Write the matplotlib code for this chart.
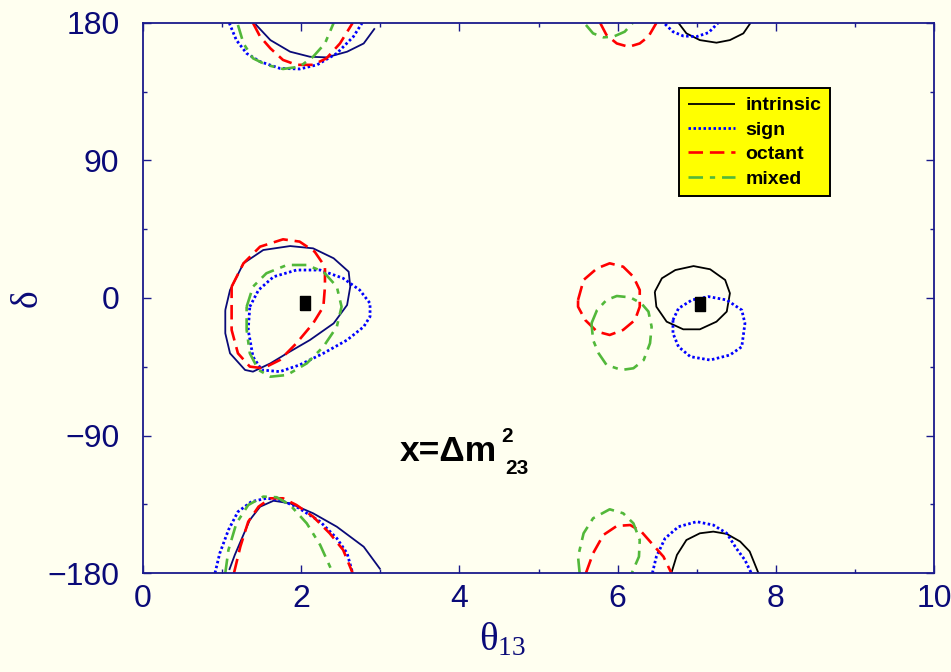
#!/usr/bin/env python3
import numpy as np
import matplotlib
matplotlib.use("Agg")
import matplotlib.pyplot as plt

plt.rcParams.update({
    'font.family': 'Liberation Sans',
    'font.size': 23,
    'axes.edgecolor': '#1a1a8c',
    'axes.linewidth': 1.3,
    'xtick.color': '#1a1a8c',
    'ytick.color': '#1a1a8c',
    'xtick.labelcolor': '#0a0a78',
    'ytick.labelcolor': '#0a0a78',
})

BG = '#fffff0'
NAVY = '#0a0a78'

# ---- allowed regions in the (theta13 [deg], delta [deg]) plane ----
# intrinsic degeneracy
intrinsic_mid_left = [(1.04, -7.9), (1.10, 5.2), (1.27, 22.7), (1.52, 31.4), (1.86, 34.0), (2.15, 32.5),
                      (2.41, 26.0), (2.60, 17.2), (2.62, 7.4), (2.58, -4.6), (2.41, -16.6), (2.11, -27.5),
                      (1.82, -36.2), (1.61, -42.8), (1.39, -48.2), (1.29, -47.1), (1.10, -36.2), (1.04, -23.1)]
intrinsic_mid_right = [(6.47, 4.1), (6.56, 12.9), (6.73, 18.3), (6.96, 20.9), (7.17, 18.8), (7.36, 11.8),
                       (7.42, 3.1), (7.38, -8.9), (7.25, -15.5), (7.04, -20.5), (6.83, -20.5), (6.62, -15.5),
                       (6.49, -5.7)]
intrinsic_top_left = [(1.42, 179.3), (1.61, 168.8), (1.86, 161.2), (2.11, 157.9), (2.32, 157.5),
                      (2.58, 161.2), (2.79, 166.6), (2.93, 176.5)]
intrinsic_top_right = [(6.77, 180), (6.87, 173.2), (7.04, 168.8), (7.25, 167.1), (7.42, 168.8),
                       (7.59, 173.2), (7.68, 180)]
intrinsic_bot_left = [(1.09, -178.0), (1.16, -168.2), (1.25, -157.3), (1.35, -145.3), (1.48, -136.6),
                      (1.65, -132.7), (1.86, -134.4), (2.15, -140.9), (2.45, -149.7), (2.79, -162.8),
                      (3.00, -177.6)]
intrinsic_bot_right = [(6.68, -180), (6.75, -168.2), (6.87, -158.4), (7.04, -154.0), (7.21, -152.9),
                       (7.38, -154.4), (7.55, -159.4), (7.67, -165.9), (7.78, -180)]

# sign degeneracy
sign_mid_left = [(1.35, -5.7), (1.46, 5.2), (1.65, 13.9), (1.94, 18.3), (2.24, 18.3), (2.53, 12.9),
                 (2.74, 5.2), (2.87, -3.5), (2.87, -12.2), (2.79, -18.8), (2.58, -27.5), (2.28, -36.2),
                 (1.98, -43.8), (1.73, -48.2), (1.50, -47.1), (1.39, -38.4), (1.33, -20.9)]
sign_mid_right = [(6.70, -14.4), (6.77, -6.8), (6.94, -1.3), (7.15, 0.9), (7.38, -1.3), (7.57, -7.9),
                  (7.61, -16.6), (7.57, -31.9), (7.42, -37.3), (7.17, -40.6), (6.92, -38.4),
                  (6.77, -31.9), (6.70, -23.1)]
sign_top_left = [(1.09, 180), (1.18, 168.8), (1.31, 160.1), (1.48, 154.7), (1.73, 150.3), (1.98, 149.9),
                 (2.20, 152.6), (2.45, 160.1), (2.66, 171.1), (2.77, 180)]
sign_top_right = [(6.60, 179.3), (6.70, 174.3), (6.83, 171.5), (7.00, 171.1), (7.15, 173.7), (7.27, 180)]
sign_bot_left = [(0.91, -180), (0.97, -167.1), (1.08, -151.8), (1.20, -139.9), (1.37, -133.3),
                 (1.56, -131.1), (1.73, -132.2), (1.94, -136.6), (2.24, -146.4), (2.45, -157.3),
                 (2.58, -167.1), (2.65, -180)]
sign_bot_right = [(6.44, -180), (6.49, -169.3), (6.60, -157.3), (6.77, -149.7), (7.00, -146.4),
                  (7.21, -148.6), (7.38, -154.0), (7.50, -163.8), (7.61, -171.5), (7.69, -180)]

# octant degeneracy
octant_mid_left = [(1.12, 7.4), (1.27, 22.7), (1.48, 33.6), (1.77, 38.4), (1.98, 36.9), (2.17, 30.3),
                   (2.30, 20.5), (2.30, 7.4), (2.28, -5.7), (2.15, -16.6), (1.94, -29.6), (1.73, -40.6),
                   (1.52, -46.0), (1.35, -44.9), (1.20, -36.2), (1.12, -20.9), (1.12, -5.7)]
octant_mid_right = [(5.50, -1.3), (5.57, 11.8), (5.74, 19.4), (5.90, 22.7), (6.07, 20.5), (6.20, 13.9),
                    (6.28, 5.2), (6.28, -5.7), (6.22, -14.4), (6.07, -20.9), (5.90, -24.2),
                    (5.74, -22.0), (5.59, -14.4), (5.50, -5.7)]
octant_top_left = [(1.39, 180), (1.48, 171.1), (1.61, 163.4), (1.77, 155.8), (1.94, 152.6),
                   (2.15, 152.6), (2.32, 156.9), (2.49, 166.6), (2.65, 180)]
octant_top_right = [(5.78, 180), (5.86, 172.1), (5.99, 166.6), (6.14, 164.4), (6.28, 166.6),
                    (6.39, 171.1), (6.49, 180)]
octant_bot_left = [(1.15, -180), (1.23, -162.8), (1.33, -146.4), (1.46, -136.6), (1.61, -131.1),
                   (1.77, -131.1), (1.94, -135.5), (2.15, -143.1), (2.36, -154.0), (2.53, -164.9),
                   (2.65, -180)]
octant_bot_right = [(5.60, -180), (5.69, -167.1), (5.82, -155.1), (5.99, -149.2), (6.16, -148.6),
                    (6.30, -152.9), (6.45, -161.7), (6.58, -169.3), (6.68, -180)]

# mixed degeneracy
mixed_mid_left = [(1.31, -5.7), (1.39, 7.4), (1.56, 16.2), (1.82, 21.6), (2.07, 21.6), (2.28, 17.2),
                  (2.45, 7.4), (2.51, -5.7), (2.45, -18.8), (2.28, -31.9), (2.07, -42.8), (1.82, -50.4),
                  (1.61, -51.5), (1.46, -47.1), (1.35, -36.2), (1.31, -20.9)]
mixed_mid_right = [(5.67, -16.6), (5.74, -7.9), (5.86, -1.3), (5.99, 1.3), (6.16, 0.4), (6.30, -3.5),
                   (6.39, -8.9), (6.43, -18.8), (6.41, -29.6), (6.33, -40.6), (6.20, -46.0),
                   (6.05, -47.1), (5.86, -43.8), (5.76, -36.2), (5.69, -27.5)]
mixed_top_left = [(1.20, 178.7), (1.27, 166.6), (1.39, 156.9), (1.56, 152.6), (1.77, 149.9),
                  (1.98, 151.4), (2.15, 157.9), (2.30, 166.6), (2.41, 180)]
mixed_top_right = [(5.60, 178.7), (5.69, 173.2), (5.82, 170.6), (5.95, 171.1), (6.09, 174.3), (6.19, 180)]
mixed_bot_left = [(1.04, -180), (1.08, -164.9), (1.18, -147.5), (1.33, -135.5), (1.52, -130.0),
                  (1.69, -130.4), (1.86, -135.5), (2.07, -147.5), (2.24, -161.7), (2.40, -180)]
mixed_bot_right = [(5.52, -180), (5.50, -169.3), (5.57, -154.0), (5.69, -144.2), (5.90, -138.3),
                   (6.07, -140.9), (6.20, -147.5), (6.28, -158.4), (6.27, -169.3), (6.18, -180)]

# true (input) points
true_theta = [2.05, 7.04]
true_delta = [-3.0, -4.0]

styles = {
    'intrinsic': dict(color='black', lw=1.3, ls='-'),
    'sign': dict(color='#0000ff', lw=2.0, ls=(0, (0.9, 0.9))),
    'octant': dict(color='#ff0000', lw=1.9, ls=(0, (5.5, 2.6))),
    'mixed': dict(color='#52b83a', lw=1.9, ls=(0, (5.5, 2.6, 2.0, 2.6))),
}

fig = plt.figure(figsize=(9.51, 6.72), dpi=100, facecolor=BG)
ax = fig.add_axes([0.1504, 0.1473, 0.8317, 0.8185], facecolor=BG)


def draw(pts, kind, closed=False, color=None, label=None):
    arr = np.array(pts)
    if closed:
        arr = np.vstack([arr, arr[:1]])
    st = dict(styles[kind])
    if color is not None:
        st['color'] = color
    ax.plot(arr[:, 0], arr[:, 1], label=label, solid_capstyle='butt', dash_capstyle='butt', **st)


# left-hand (theta13 ~ 2) curves of the intrinsic set are navy, right-hand ones black
draw(intrinsic_mid_right, 'intrinsic', closed=True, label='intrinsic')
draw(intrinsic_top_right, 'intrinsic')
draw(intrinsic_bot_right, 'intrinsic')
draw(intrinsic_mid_left, 'intrinsic', closed=True, color=NAVY)
draw(intrinsic_top_left, 'intrinsic', color=NAVY)
draw(intrinsic_bot_left, 'intrinsic', color=NAVY)

draw(sign_mid_left, 'sign', closed=True, label='sign')
draw(sign_mid_right, 'sign', closed=True)
for seg in (sign_top_left, sign_top_right, sign_bot_left, sign_bot_right):
    draw(seg, 'sign')

draw(octant_mid_left, 'octant', closed=True, label='octant')
draw(octant_mid_right, 'octant', closed=True)
for seg in (octant_top_left, octant_top_right, octant_bot_left, octant_bot_right):
    draw(seg, 'octant')

draw(mixed_mid_left, 'mixed', closed=True, label='mixed')
draw(mixed_mid_right, 'mixed', closed=True)
for seg in (mixed_top_left, mixed_top_right, mixed_bot_left, mixed_bot_right):
    draw(seg, 'mixed')

ax.plot(true_theta, true_delta, ls='none', color='black',
        marker=[(-5, -7), (5, -7), (5, 7), (-5, 7), (-5, -7)], markersize=10)

ax.set_xlim(0, 10)
ax.set_ylim(-180, 180)
ax.set_xticks(np.arange(0, 11, 2))
ax.set_xticks(np.arange(0, 11, 1), minor=True)
ax.set_yticks([-180, -90, 0, 90, 180])
ax.set_yticks(np.arange(-180, 181, 45), minor=True)
ax.tick_params(which='both', direction='in', top=True, right=True, width=1.0)
ax.tick_params(which='major', length=6)
ax.tick_params(which='minor', length=3)
ax.tick_params(axis='x', pad=8)
ax.tick_params(axis='y', pad=17)

ax.set_xlabel(r'$\mathregular{θ_{13}}$', fontfamily='Liberation Serif', fontsize=28, color=NAVY)
ax.xaxis.set_label_coords(0.455, -0.088)
ax.set_ylabel('δ', fontfamily='Liberation Serif', fontsize=27, color=NAVY)
ax.yaxis.set_label_coords(-0.124, 0.5)

# x = delta m^2_23 tag, written as separate pieces so the indices sit apart
ax.text(3.25, -107, 'x=Δm', fontsize=25.5, fontweight='bold', color='black', ha='left', va='baseline')
ax.text(4.53, -94, '2', fontsize=15, fontweight='bold', color='black', ha='left', va='baseline')
ax.text(4.58, -115, '23', fontsize=15, fontweight='bold', color='black', ha='left', va='baseline')

leg = ax.legend(loc='upper right', bbox_to_anchor=(0.8685, 0.8818), borderaxespad=0,
                prop=dict(family='Liberation Sans', weight='bold', size=14),
                handlelength=2.4, handletextpad=0.55, labelspacing=0.35, borderpad=0.45,
                fancybox=False, framealpha=1, facecolor='#ffff00', edgecolor='black')
leg.get_frame().set_linewidth(1.4)

plt.savefig('out.png', dpi=100, facecolor=BG)
